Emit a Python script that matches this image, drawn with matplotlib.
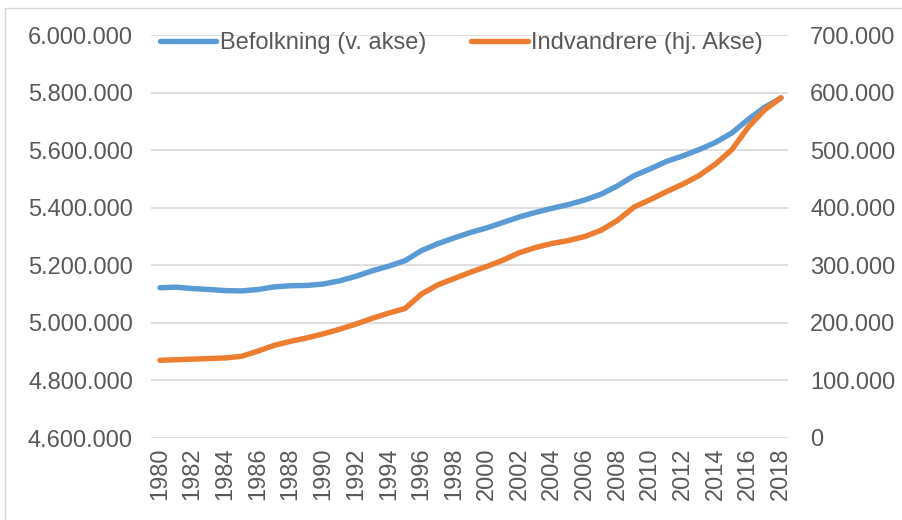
import matplotlib
matplotlib.use("Agg")
import matplotlib.pyplot as plt
from matplotlib.patches import Rectangle
from matplotlib.ticker import FuncFormatter

years = list(range(1980, 2019))

# Befolkning (venstre akse)
befolkning = [
    5122000, 5124000, 5119000, 5116000, 5112000, 5111000, 5116000, 5125000,
    5129000, 5130000, 5135000, 5146000, 5162000, 5181000, 5197000, 5216000,
    5251000, 5275000, 5295000, 5314000, 5330000, 5349000, 5368000, 5384000,
    5398000, 5411000, 5427000, 5447000, 5476000, 5511000, 5535000, 5561000,
    5580000, 5602000, 5627000, 5660000, 5707000, 5749000, 5781000,
]

# Indvandrere (hoejre akse)
indvandrere = [
    135000, 136000, 137000, 138000, 139000, 142000, 151000, 161000,
    168000, 174000, 181000, 189000, 198000, 208000, 217000, 225000,
    250000, 266000, 277000, 288000, 298000, 309000, 322000, 331000,
    338000, 343000, 350000, 361000, 378000, 401000, 414000, 428000,
    441000, 456000, 476000, 501000, 540000, 570000, 591000,
]

left_ticks = list(range(4600000, 6000001, 200000))
right_ticks = list(range(0, 700001, 100000))
x_ticks = years[::2]

BLUE = "#5B9BD5"
ORANGE = "#ED7D31"
GREY_TEXT = "#595959"
GRID = "#D9D9D9"

plt.rcParams["font.family"] = ["Liberation Sans", "DejaVu Sans"]


def dotted(v, _pos=None):
    if v == 0:
        return "0"
    return f"{int(round(v)):,}".replace(",", ".")


fig = plt.figure(figsize=(9.02, 5.2), dpi=100)
fig.patches.append(Rectangle((5 / 902, -0.1), 1.2, 1 - 8 / 520 + 0.1,
                             transform=fig.transFigure, fill=False,
                             edgecolor=GRID, linewidth=1.0))

ax = fig.add_axes([151 / 902, 1 - 438 / 520, (788 - 151) / 902, (438 - 35) / 520])
ax2 = ax.twinx()

l1, = ax.plot(years, befolkning, color=BLUE, linewidth=3.9,
              solid_capstyle="round", label="Befolkning (v. akse)")
l2, = ax2.plot(years, indvandrere, color=ORANGE, linewidth=3.9,
               solid_capstyle="round", label="Indvandrere (hj. Akse)")

ax.set_xlim(1980 - 0.55, 2018 + 0.43)
ax.set_ylim(4600000, 6000000)
ax2.set_ylim(0, 700000)

ax.set_yticks(left_ticks)
ax2.set_yticks(right_ticks)
ax.set_xticks(x_ticks)
ax.set_xticklabels([str(y) for y in x_ticks], rotation=90)
ax.yaxis.set_major_formatter(FuncFormatter(dotted))
ax2.yaxis.set_major_formatter(FuncFormatter(dotted))

ax.grid(axis="y", color=GRID, linewidth=1.2)
ax.set_axisbelow(True)

for a in (ax, ax2):
    for s in a.spines.values():
        s.set_visible(False)

ax.tick_params(axis="y", length=0, pad=13, labelsize=17, labelcolor=GREY_TEXT)
ax2.tick_params(axis="y", length=0, pad=16, labelsize=17, labelcolor=GREY_TEXT)
ax.tick_params(axis="x", length=0, pad=7, labelsize=17, labelcolor=GREY_TEXT)

leg = ax2.legend(handles=[l1, l2], loc="center", ncol=2, frameon=False,
                 bbox_to_anchor=(0.487, 1 - 8 / 403), fontsize=17,
                 handlelength=2.4, handletextpad=0.15, columnspacing=1.9,
                 borderpad=0)
for t in leg.get_texts():
    t.set_color(GREY_TEXT)

fig.savefig("out.png", dpi=100)
